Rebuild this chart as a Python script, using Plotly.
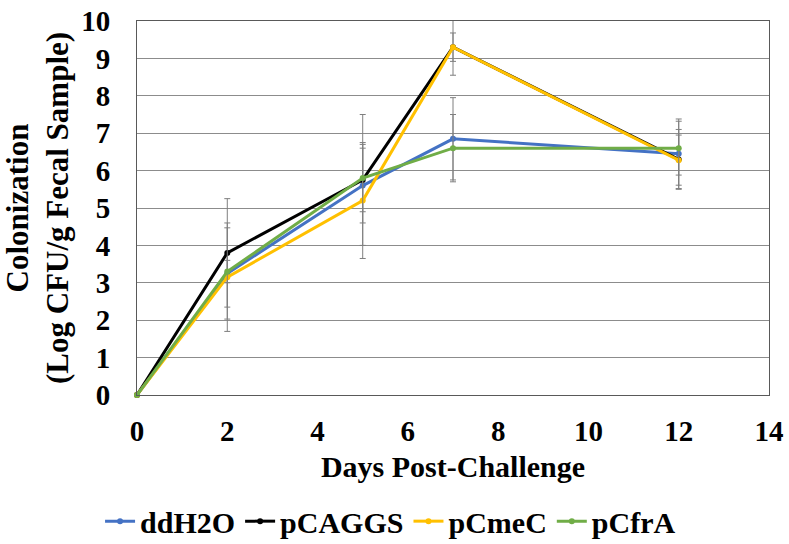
import plotly.graph_objects as go

days = [0, 2, 5, 7, 12]
series_names = ["ddH2O", "pCAGGS", "pCmeC", "pCfrA"]
ddH2O = [0, 3.25, 5.6, 6.85, 6.45]
pCAGGS = [0, 3.8, 5.75, 9.3, 6.3]
pCmeC = [0, 3.15, 5.2, 9.3, 6.28]
pCfrA = [0, 3.3, 5.8, 6.6, 6.6]
err_ddH2O = [0, 1.22, 1.0, 1.1, 0.93]
err_pCAGGS = [0, 1.45, 1.75, 0.75, 0.8]
err_pCmeC = [0, 1.45, 1.55, 0.38, 0.67]
err_pCfrA = [0, 0.3, 0.9, 0.9, 0.72]
colors = ["#4472C4", "#000000", "#FFC000", "#70AD47"]

values = [ddH2O, pCAGGS, pCmeC, pCfrA]
errors = [err_ddH2O, err_pCAGGS, err_pCmeC, err_pCfrA]

FONT = "Liberation Serif"

fig = go.Figure()
for name, vals, errs, col in zip(series_names, values, errors, colors):
    fig.add_trace(go.Scatter(
        x=days, y=vals, name=name, mode="lines+markers",
        line=dict(color=col, width=3),
        marker=dict(color=col, size=6),
        error_y=dict(type="data", array=errs, visible=True,
                     color="#7f7f7f", thickness=1, width=3),
        cliponaxis=False,
    ))

fig.update_layout(
    width=789, height=544,
    margin=dict(l=137, r=20, t=21, b=149, autoexpand=False),
    paper_bgcolor="white", plot_bgcolor="white",
    font=dict(family=FONT, size=29, color="black"),
    showlegend=True,
    legend=dict(orientation="h", xref="container", x=0.495, xanchor="center",
                yref="container", y=0.042, yanchor="middle",
                font=dict(family=FONT, size=30, color="black", weight="bold"),
                itemwidth=30, tracegroupgap=0),
    xaxis=dict(
        range=[0, 14], tickvals=[0, 2, 4, 6, 8, 10, 12, 14],
        showgrid=False, zeroline=False,
        showline=True, linecolor="#595959", linewidth=1, mirror=True,
        ticks="", ticklabelstandoff=10,
        tickfont=dict(family=FONT, size=29, weight="bold"),
        title=dict(text="<b>Days Post-Challenge</b>", standoff=10,
                   font=dict(family=FONT, size=30)),
    ),
    yaxis=dict(
        range=[0, 10], tickvals=list(range(0, 11)),
        showgrid=True, gridcolor="#8c8c8c", gridwidth=1, zeroline=False,
        showline=True, linecolor="#595959", linewidth=1, mirror=True,
        ticks="", ticklabelstandoff=20,
        tickfont=dict(family=FONT, size=29, weight="bold"),
        title=dict(text="<b>Colonization<br>(Log CFU/g Fecal Sample)</b>", standoff=4,
                   font=dict(family=FONT, size=31)),
    ),
)

fig.write_html("out.html")
